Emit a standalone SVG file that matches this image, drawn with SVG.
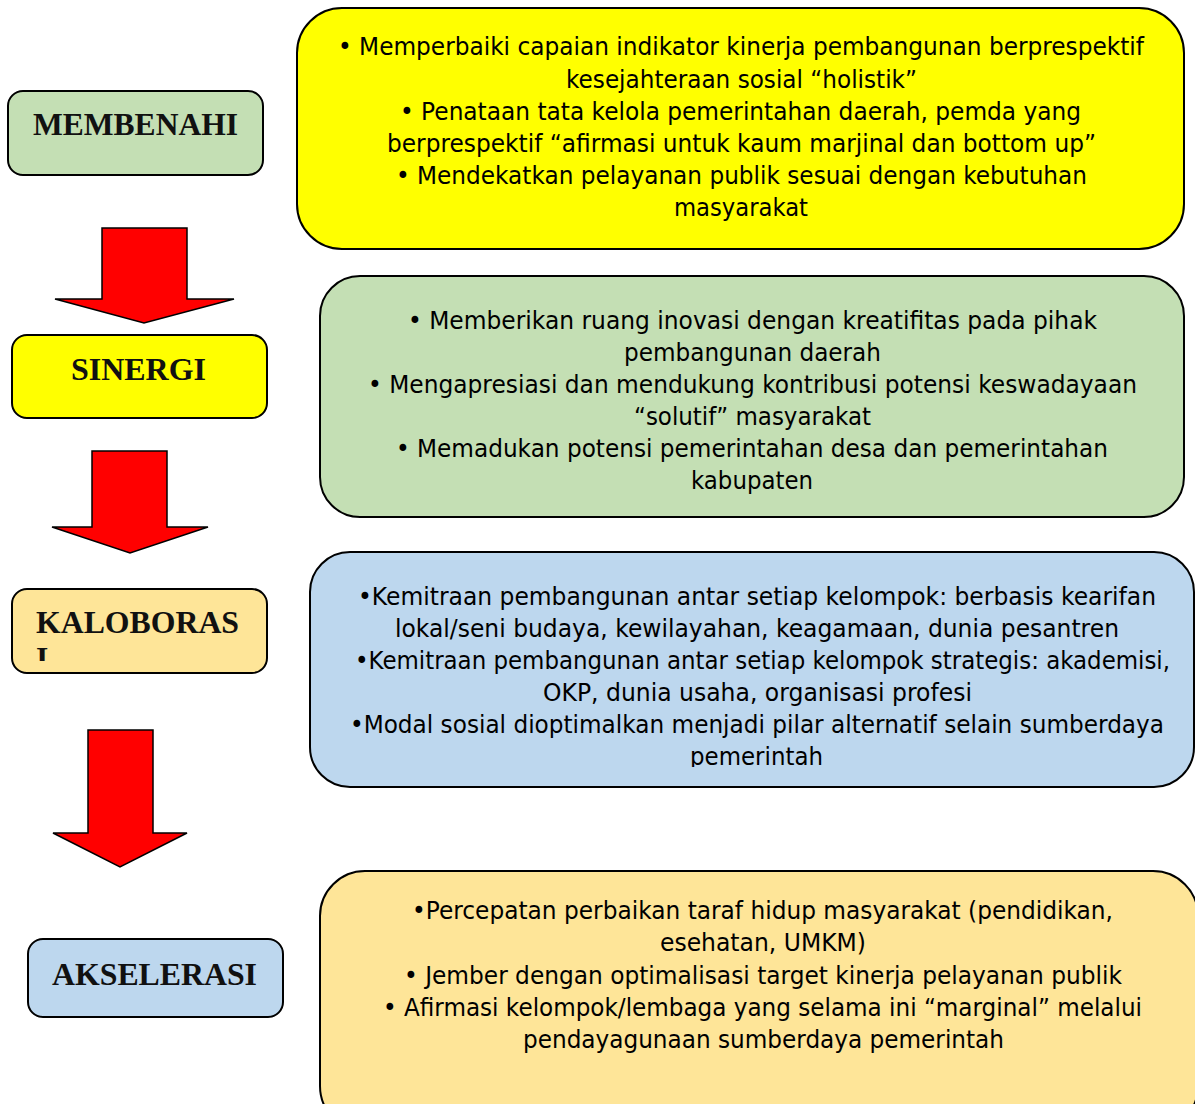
<svg xmlns="http://www.w3.org/2000/svg" width="1195" height="1104" viewBox="0 0 1195 1104">
<style>
.box{stroke:#000;stroke-width:2}
.lbl{font-family:"Liberation Serif","Times New Roman",serif;font-weight:bold;font-size:31.5px;fill:#111}
.t{font-family:"DejaVu Sans","Verdana",sans-serif;font-size:24px;fill:#000;text-anchor:middle}
.arr{fill:#FF0000;stroke:#000;stroke-width:1.5;stroke-linejoin:miter}
.green{fill:#C4DFB4}.yellow{fill:#FFFF00}.orange{fill:#FEE598}.blue{fill:#BDD7EE}
</style>
<defs>
<clipPath id="clipK"><rect x="12" y="589" width="255" height="72"/></clipPath>
<clipPath id="clipB3"><rect x="310" y="552" width="885" height="215"/></clipPath>
</defs>
<g id="connectors">
<polygon class="arr" points="102,228 187,228 187,299 234,299 144,323 55,299 102,299"/>
<polygon class="arr" points="92,451 167,451 167,527 208,527 130,553 52,527 92,527"/>
<polygon class="arr" points="88,730 153,730 153,833 187,833 120,867 53,833 88,833"/>
</g>
<g id="membenahi">
<rect class="box green" x="8" y="91" width="255" height="84" rx="15"/>
<text class="lbl" x="135.5" y="135" text-anchor="middle" textLength="205" lengthAdjust="spacingAndGlyphs">MEMBENAHI</text>
</g>
<g id="sinergi">
<rect class="box yellow" x="12" y="335" width="255" height="83" rx="15"/>
<text class="lbl" x="138.5" y="380" text-anchor="middle" textLength="135" lengthAdjust="spacingAndGlyphs">SINERGI</text>
</g>
<g id="kaloborasi">
<rect class="box orange" x="12" y="589" width="255" height="84" rx="15"/>
<g clip-path="url(#clipK)">
<text class="lbl" x="36" y="633" textLength="203" lengthAdjust="spacingAndGlyphs">KALOBORAS</text>
<text class="lbl" x="36" y="669">I</text>
</g>
</g>
<g id="akselerasi">
<rect class="box blue" x="28" y="939" width="255" height="78" rx="15"/>
<text class="lbl" x="154.5" y="985" text-anchor="middle" textLength="205" lengthAdjust="spacingAndGlyphs">AKSELERASI</text>
</g>
<g id="box-membenahi">
<rect class="box yellow" x="297" y="8" width="887" height="241" rx="45"/>
<text class="t" x="741" y="55" textLength="806" lengthAdjust="spacingAndGlyphs">• Memperbaiki capaian indikator kinerja pembangunan berprespektif</text>
<text class="t" x="741.5" y="88" textLength="351" lengthAdjust="spacingAndGlyphs">kesejahteraan sosial “holistik”</text>
<text class="t" x="740.5" y="120" textLength="681" lengthAdjust="spacingAndGlyphs">• Penataan tata kelola pemerintahan daerah, pemda yang</text>
<text class="t" x="741.5" y="152" textLength="709" lengthAdjust="spacingAndGlyphs">berprespektif “afirmasi untuk kaum marjinal dan bottom up”</text>
<text class="t" x="741.5" y="184" textLength="691" lengthAdjust="spacingAndGlyphs">• Mendekatkan pelayanan publik sesuai dengan kebutuhan</text>
<text class="t" x="741" y="216" textLength="134" lengthAdjust="spacingAndGlyphs">masyarakat</text>
</g>
<g id="box-sinergi">
<rect class="box green" x="320" y="276" width="864" height="241" rx="40"/>
<text class="t" x="752.5" y="329" textLength="689" lengthAdjust="spacingAndGlyphs">• Memberikan ruang inovasi dengan kreatifitas pada pihak</text>
<text class="t" x="752.5" y="361" textLength="257" lengthAdjust="spacingAndGlyphs">pembangunan daerah</text>
<text class="t" x="752.5" y="393" textLength="769" lengthAdjust="spacingAndGlyphs">• Mengapresiasi dan mendukung kontribusi potensi keswadayaan</text>
<text class="t" x="752.5" y="425" textLength="237" lengthAdjust="spacingAndGlyphs">“solutif” masyarakat</text>
<text class="t" x="752" y="457" textLength="712" lengthAdjust="spacingAndGlyphs">• Memadukan potensi pemerintahan desa dan pemerintahan</text>
<text class="t" x="752" y="489" textLength="122" lengthAdjust="spacingAndGlyphs">kabupaten</text>
</g>
<g id="box-kaloborasi">
<rect class="box blue" x="310" y="552" width="884" height="235" rx="40"/>
<g clip-path="url(#clipB3)">
<text class="t" x="757" y="605" textLength="798" lengthAdjust="spacingAndGlyphs">•Kemitraan pembangunan antar setiap kelompok: berbasis kearifan</text>
<text class="t" x="757" y="637" textLength="724" lengthAdjust="spacingAndGlyphs">lokal/seni budaya, kewilayahan, keagamaan, dunia pesantren</text>
<text class="t" x="762.5" y="669" textLength="815" lengthAdjust="spacingAndGlyphs">•Kemitraan pembangunan antar setiap kelompok strategis: akademisi,</text>
<text class="t" x="757.5" y="701" textLength="429" lengthAdjust="spacingAndGlyphs">OKP, dunia usaha, organisasi profesi</text>
<text class="t" x="757" y="733" textLength="814" lengthAdjust="spacingAndGlyphs">•Modal sosial dioptimalkan menjadi pilar alternatif selain sumberdaya</text>
<text class="t" x="756.5" y="765" textLength="133" lengthAdjust="spacingAndGlyphs">pemerintah</text>
</g>
</g>
<g id="box-akselerasi">
<rect class="box orange" x="320" y="871" width="878" height="260" rx="45"/>
<text class="t" x="762.5" y="919" textLength="701" lengthAdjust="spacingAndGlyphs">•Percepatan perbaikan taraf hidup masyarakat (pendidikan,</text>
<text class="t" x="763" y="951" textLength="206" lengthAdjust="spacingAndGlyphs">esehatan, UMKM)</text>
<text class="t" x="763" y="984" textLength="718" lengthAdjust="spacingAndGlyphs">• Jember dengan optimalisasi target kinerja pelayanan publik</text>
<text class="t" x="762.5" y="1016" textLength="759" lengthAdjust="spacingAndGlyphs">• Afirmasi kelompok/lembaga yang selama ini “marginal” melalui</text>
<text class="t" x="763.5" y="1048" textLength="481" lengthAdjust="spacingAndGlyphs">pendayagunaan sumberdaya pemerintah</text>
</g>
</svg>
